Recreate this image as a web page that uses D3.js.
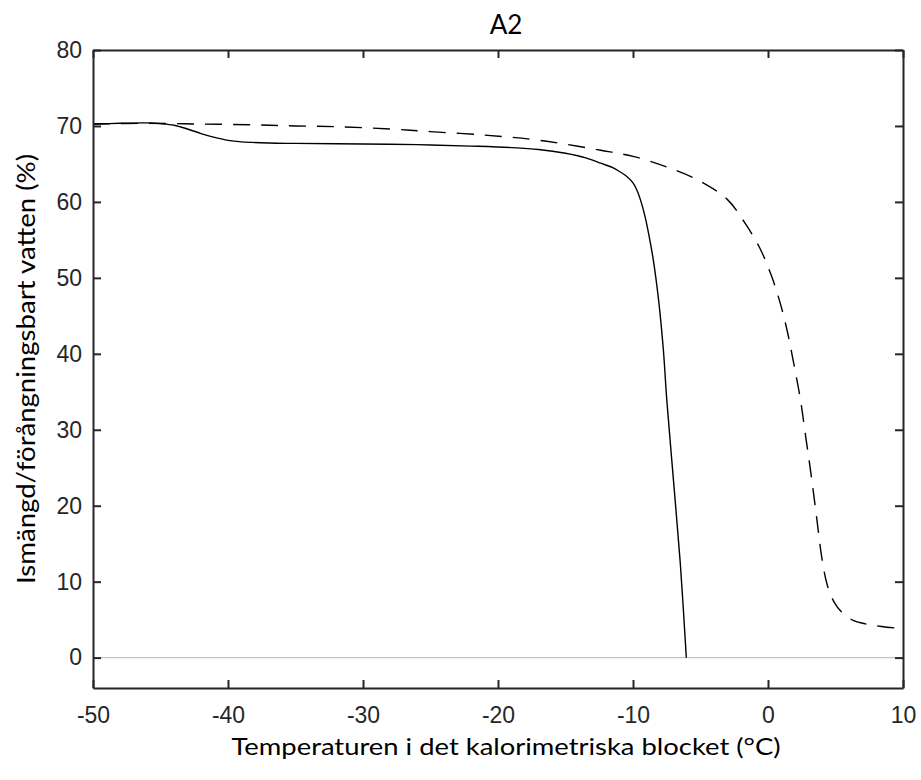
<!DOCTYPE html>
<html>
<head>
<meta charset="utf-8">
<script src="https://cdn.jsdelivr.net/npm/d3@7"></script>
<style>
  html, body { margin: 0; padding: 0; background: #fff; }
  svg { display: block; }
  .tick text { font-family: "Liberation Sans", Arial, sans-serif; }
</style>
</head>
<body>
<div id="chart"></div>
<script>
// ---- data ----
const xTicks = [-50, -40, -30, -20, -10, 0, 10];
const yTicks = [0, 10, 20, 30, 40, 50, 60, 70, 80];

// solid curve
const solidTemp = [-50, -48, -46, -45, -44, -43, -42, -41, -40, -39, -37, -35, -32, -28, -25, -22, -19, -17, -15, -13.5, -12.4, -11.5, -11, -10.5, -10, -9.7, -9.4, -9.1, -8.85, -8.5, -8.1, -7.75, -7.5, -7.0, -6.5, -6.05];
const solidIce  = [70.25, 70.35, 70.4, 70.3, 70.1, 69.6, 69.0, 68.5, 68.1, 67.9, 67.75, 67.7, 67.65, 67.6, 67.5, 67.35, 67.15, 66.9, 66.4, 65.8, 65.1, 64.5, 64.0, 63.4, 62.5, 61.5, 60.0, 58.0, 55.9, 52.4, 47.0, 40.5, 34.0, 23.3, 12.5, 0];

// dashed curve
const dashTemp = [-50, -46, -42, -38, -35, -32, -28, -25, -21, -17.6, -15, -12.4, -10, -7.5, -5, -3, -1.7, -0.6, 0.27, 0.9, 1.4, 1.9, 2.4, 2.8, 3.2, 3.6, 4.0, 4.4, 4.9, 5.4, 6.3, 7.2, 8.4, 10];
const dashIce  = [70.25, 70.35, 70.25, 70.15, 70.0, 69.9, 69.6, 69.25, 68.8, 68.25, 67.6, 66.8, 66.0, 64.6, 62.7, 60.3, 57.2, 53.9, 50.2, 46.7, 43.2, 38.8, 34.0, 29.0, 24.0, 18.5, 13.0, 9.5, 7.3, 6.1, 4.9, 4.45, 4.1, 3.8];

const titleText = 'A2';
const xLabel = 'Temperaturen i det kalorimetriska blocket (°C)';
const yLabel = 'Ismängd/förångningsbart vatten (%)';

// ---- layout ----
const W = 921, H = 780;
const margin = { top: 50, right: 18, bottom: 92, left: 93 };
const innerW = W - margin.left - margin.right;
const innerH = H - margin.top - margin.bottom;

const axisColor = '#262626';
const labelFont = 'Lato, "Open Sans", sans-serif';

const svg = d3.select('#chart').append('svg')
  .attr('width', W)
  .attr('height', H);

const g = svg.append('g')
  .attr('transform', `translate(${margin.left},${margin.top})`);

const x = d3.scaleLinear().domain([-50, 10]).range([0, innerW]);
const y = d3.scaleLinear().domain([-4, 80]).range([innerH, 0]);

// zero reference line
g.append('line')
  .attr('x1', 0).attr('x2', innerW)
  .attr('y1', y(0)).attr('y2', y(0))
  .attr('stroke', '#c4c4c4')
  .attr('stroke-width', 1.3);

// curves
const line = d3.line()
  .x(d => x(d[0]))
  .y(d => y(d[1]))
  .curve(d3.curveCatmullRom.alpha(0.5));

g.append('path')
  .datum(solidTemp.map((t, i) => [t, solidIce[i]]))
  .attr('fill', 'none')
  .attr('stroke', '#000')
  .attr('stroke-width', 1.4)
  .attr('d', line);

g.append('path')
  .datum(dashTemp.map((t, i) => [t, dashIce[i]]))
  .attr('fill', 'none')
  .attr('stroke', '#000')
  .attr('stroke-width', 1.4)
  .attr('stroke-dasharray', '17,11')
  .attr('d', line);

// axes (ticks point inward, box on all four sides)
function styleAxis(sel) {
  sel.selectAll('path.domain').attr('stroke', axisColor).attr('stroke-width', 2);
  sel.selectAll('.tick line').attr('stroke', axisColor).attr('stroke-width', 2);
  sel.selectAll('.tick text').attr('fill', axisColor).style('font-size', '23px');
  return sel;
}

const plain = d => String(d);   // hyphen minus like the reference

g.append('g')
  .attr('transform', `translate(0,${innerH})`)
  .call(d3.axisBottom(x).tickValues(xTicks).tickFormat(plain).tickSizeInner(-8).tickSizeOuter(0).tickPadding(19))
  .call(styleAxis);

g.append('g')
  .call(d3.axisTop(x).tickValues(xTicks).tickSizeInner(-8).tickSizeOuter(0).tickFormat(''))
  .call(styleAxis);

g.append('g')
  .call(d3.axisLeft(y).tickValues(yTicks).tickFormat(plain).tickSizeInner(-8).tickSizeOuter(0).tickPadding(11))
  .call(styleAxis);

g.append('g')
  .attr('transform', `translate(${innerW},0)`)
  .call(d3.axisRight(y).tickValues(yTicks).tickSizeInner(-8).tickSizeOuter(0).tickFormat(''))
  .call(styleAxis);

// titles
svg.append('text')
  .attr('x', 506).attr('y', 34)
  .attr('text-anchor', 'middle')
  .style('font-family', labelFont)
  .style('font-size', '26px')
  .attr('fill', '#000')
  .text(titleText);

svg.append('text')
  .attr('x', 506).attr('y', 755)
  .attr('text-anchor', 'middle')
  .style('font-family', labelFont)
  .style('font-size', '24px')
  .attr('textLength', 549)
  .attr('lengthAdjust', 'spacingAndGlyphs')
  .attr('fill', '#000')
  .text(xLabel);

svg.append('text')
  .attr('transform', `translate(35,${margin.top + innerH / 2}) rotate(-90)`)
  .attr('text-anchor', 'middle')
  .style('font-family', labelFont)
  .style('font-size', '25px')
  .attr('textLength', 430)
  .attr('lengthAdjust', 'spacingAndGlyphs')
  .attr('fill', '#000')
  .text(yLabel);
</script>
</body>
</html>
